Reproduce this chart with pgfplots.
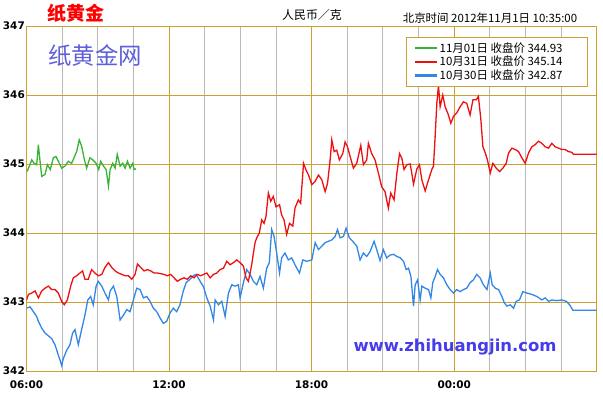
\documentclass[border=0pt]{standalone}
\usepackage{fontspec}
\usepackage{pgfplots}
\pgfplotsset{compat=1.18}
\newfontfamily\cjk{Noto Sans CJK SC}
\newfontfamily\dv{DejaVu Sans}
\definecolor{gold}{RGB}{205,160,50}
\definecolor{gridgrey}{RGB}{185,185,185}
\definecolor{lred}{RGB}{238,16,16}
\definecolor{lgreen}{RGB}{55,180,55}
\definecolor{lblue}{RGB}{50,135,230}
\definecolor{wmblue}{RGB}{95,95,220}
\definecolor{wwwblue}{RGB}{70,60,235}
\begin{document}
\begin{tikzpicture}[x=1bp,y=1bp]
\path[use as bounding box] (0,0) rectangle (603,392);
\begin{axis}[
  at={(26.5bp,21bp)}, anchor=south west, scale only axis,
  width=570.2bp, height=345bp,
  xmin=0, xmax=24, ymin=342, ymax=347,
  xtick={0,6,12,18,24}, xticklabels={06:00,12:00,18:00,00:00,{}},
  minor xtick={1.5,3,4.5,7.5,9,10.5,13.5,15,16.5,19.5,21,22.5},
  ytick={342,343,344,345,346,347},
  grid=both,
  major grid style={gold, line width=0.9bp},
  minor grid style={gridgrey, line width=0.9bp},
  axis line style={gold, line width=0.9bp},
  major tick length=0pt, minor tick length=0pt,
  tick style={draw=none},
  /pgf/number format/assume math mode=true,
  ticklabel style={font=\dv\bfseries\fontsize{10.5}{12}\selectfont},
  yticklabel style={inner sep=0pt, xshift=-1.5bp},
  xticklabel style={inner sep=0pt, yshift=-10bp},
  legend style={at={(0.6656,0.968)}, anchor=north west, draw=gold, line width=0.9bp, fill=white,
    font=\cjk\fontsize{11.5}{13}\selectfont, inner xsep=7bp, inner ysep=3bp, row sep=-1.5bp,
    /tikz/every even column/.append style={column sep=4bp}},
  legend cell align=left,
  reverse legend,
  legend image code/.code={\draw[#1, line width=2.2bp] (0bp,0bp) -- (22bp,0bp);},
]
\addplot[lblue, line width=1.3bp] coordinates {
(0.00,342.91) (0.15,342.93) (0.29,342.86) (0.43,342.79) (0.50,342.72) (0.64,342.62) (0.78,342.55)
(0.92,342.51) (1.06,342.47) (1.20,342.38) (1.34,342.23) (1.41,342.16) (1.48,342.08) (1.55,342.18)
(1.69,342.30) (1.83,342.38) (1.94,342.55) (2.04,342.60) (2.18,342.38) (2.32,342.60) (2.46,342.81)
(2.58,343.03) (2.70,343.08) (2.81,342.96) (2.93,343.23) (3.02,343.30) (3.17,343.23) (3.30,343.13)
(3.45,343.03) (3.52,343.16) (3.66,343.23) (3.80,343.08) (3.94,342.74) (4.08,342.81) (4.22,342.89)
(4.36,342.86) (4.50,343.03) (4.64,343.20) (4.78,343.18) (4.92,343.06) (5.06,343.08) (5.20,343.01)
(5.34,342.91) (5.48,342.86) (5.62,342.77) (5.76,342.69) (5.90,342.72) (6.04,342.84) (6.18,342.91)
(6.32,342.86) (6.46,342.96) (6.60,343.16) (6.72,343.28) (6.88,343.33) (7.02,343.38) (7.14,343.40)
(7.31,343.30) (7.45,343.22) (7.59,343.06) (7.73,342.94) (7.87,342.74) (7.94,343.03) (8.08,342.96)
(8.22,343.01) (8.36,342.79) (8.50,343.13) (8.64,343.25) (8.78,343.23) (8.92,343.25) (8.99,343.06)
(9.13,343.28) (9.27,343.47) (9.41,343.40) (9.55,343.30) (9.69,343.25) (9.83,343.37) (9.97,343.20)
(10.11,343.49) (10.22,343.57) (10.32,344.05) (10.42,343.95) (10.53,343.71) (10.65,343.42) (10.74,343.64)
(10.88,343.71) (11.02,343.61) (11.16,343.64) (11.30,343.54) (11.49,343.42) (11.63,343.61) (11.80,343.59)
(12.01,343.61) (12.15,343.86) (12.29,343.76) (12.43,343.81) (12.57,343.86) (12.71,343.88) (12.85,343.90)
(12.99,343.95) (13.09,344.05) (13.20,343.93) (13.34,343.95) (13.45,344.07) (13.59,343.93) (13.73,343.88)
(13.90,343.81) (14.04,343.61) (14.18,343.71) (14.32,343.66) (14.46,343.73) (14.63,343.88) (14.74,343.76)
(14.88,343.60) (15.02,343.76) (15.16,343.64) (15.30,343.68) (15.45,343.69) (15.59,343.66) (15.73,343.64)
(15.87,343.59) (15.98,343.47) (16.08,343.49) (16.18,343.37) (16.29,342.94) (16.36,343.25) (16.46,343.32)
(16.57,343.03) (16.64,343.23) (16.78,343.20) (16.92,343.18) (17.02,343.06) (17.10,343.28) (17.20,343.37)
(17.30,343.47) (17.41,343.40) (17.55,343.35) (17.69,343.25) (17.83,343.18) (17.97,343.13) (18.11,343.18)
(18.25,343.15) (18.39,343.18) (18.53,343.20) (18.67,343.28) (18.81,343.32) (18.95,343.40) (19.09,343.35)
(19.23,343.25) (19.38,343.18) (19.52,343.42) (19.60,343.25) (19.73,343.20) (19.87,343.18) (20.01,343.08)
(20.11,342.99) (20.22,342.94) (20.36,342.96) (20.50,342.91) (20.61,343.01) (20.75,343.03) (20.89,343.15)
(21.06,343.13) (21.27,343.11) (21.48,343.08) (21.69,343.03) (21.83,343.06) (21.97,343.01) (22.11,343.03)
(22.32,343.02) (22.53,343.03) (22.72,343.01) (22.86,342.96) (23.00,342.88) (24.00,342.88)
};
\addlegendentry{\makebox[139bp][l]{\rule[-10bp]{0pt}{10bp}10月30日 收盘价 342.87}}
\addplot[lred, line width=1.3bp] coordinates {
(0.00,343.03) (0.08,343.11) (0.22,343.13) (0.36,343.16) (0.50,343.06) (0.64,343.16) (0.78,343.20)
(0.92,343.23) (1.06,343.18) (1.20,343.18) (1.34,343.13) (1.48,343.01) (1.59,342.96) (1.72,343.03)
(1.86,343.23) (1.97,343.35) (2.11,343.38) (2.25,343.42) (2.36,343.45) (2.46,343.33) (2.60,343.33)
(2.74,343.47) (2.88,343.42) (3.02,343.38) (3.17,343.40) (3.30,343.50) (3.45,343.57) (3.59,343.50)
(3.73,343.45) (3.87,343.42) (4.01,343.40) (4.15,343.38) (4.29,343.38) (4.43,343.33) (4.57,343.40)
(4.67,343.55) (4.81,343.50) (4.95,343.45) (5.09,343.47) (5.23,343.45) (5.37,343.42) (5.51,343.42)
(5.65,343.41) (5.79,343.40) (5.93,343.38) (6.07,343.40) (6.21,343.35) (6.35,343.30) (6.49,343.33)
(6.63,343.35) (6.77,343.33) (6.91,343.38) (7.05,343.35) (7.19,343.40) (7.33,343.38) (7.45,343.40)
(7.59,343.42) (7.73,343.35) (7.87,343.40) (8.01,343.42) (8.15,343.47) (8.29,343.49) (8.43,343.59)
(8.57,343.54) (8.71,343.57) (8.85,343.61) (8.99,343.57) (9.13,343.52) (9.24,343.35) (9.34,343.30)
(9.41,343.42) (9.48,343.54) (9.55,343.71) (9.62,343.86) (9.69,343.93) (9.80,344.00) (9.90,344.19)
(10.00,344.14) (10.08,344.24) (10.18,344.58) (10.28,344.46) (10.39,344.53) (10.50,344.38) (10.65,344.41)
(10.74,344.26) (10.84,344.19) (10.95,343.98) (11.07,344.14) (11.21,344.10) (11.30,344.36) (11.44,344.48)
(11.54,344.43) (11.66,345.01) (11.77,344.91) (11.87,344.84) (12.01,344.70) (12.15,344.75) (12.29,344.84)
(12.43,344.77) (12.57,344.60) (12.67,344.72) (12.78,345.06) (12.85,345.35) (12.95,345.18) (13.06,345.20)
(13.17,345.06) (13.31,345.15) (13.41,345.32) (13.51,345.25) (13.62,345.11) (13.76,344.94) (13.90,345.01)
(14.01,345.18) (14.07,345.27) (14.18,344.99) (14.32,345.06) (14.39,345.30) (14.53,345.15) (14.67,345.06)
(14.81,344.87) (14.95,344.67) (15.09,344.60) (15.23,344.36) (15.33,344.58) (15.47,344.48) (15.59,344.87)
(15.70,345.15) (15.80,345.08) (15.89,344.92) (16.01,344.99) (16.15,345.00) (16.29,344.71) (16.43,344.93)
(16.54,344.99) (16.64,344.77) (16.78,344.61) (16.92,344.77) (17.06,344.92) (17.13,344.97) (17.20,345.40)
(17.27,345.88) (17.34,346.14) (17.41,345.83) (17.52,346.00) (17.62,345.83) (17.76,345.71) (17.86,345.59)
(17.97,345.69) (18.11,345.74) (18.25,345.83) (18.39,345.90) (18.53,345.88) (18.67,345.71) (18.79,345.93)
(18.93,345.93) (19.02,345.98) (19.12,345.66) (19.21,345.25) (19.31,345.16) (19.40,345.06) (19.52,344.87)
(19.63,345.01) (19.77,344.94) (19.91,344.89) (20.05,344.94) (20.19,345.01) (20.29,345.16) (20.43,345.23)
(20.57,345.21) (20.71,345.18) (20.85,345.09) (20.99,345.01) (21.13,345.16) (21.27,345.25) (21.41,345.28)
(21.55,345.33) (21.69,345.30) (21.83,345.25) (21.97,345.23) (22.11,345.30) (22.25,345.25) (22.39,345.23)
(22.53,345.21) (22.67,345.21) (22.81,345.18) (22.95,345.17) (23.02,345.14) (24.00,345.14)
};
\addlegendentry{\makebox[139bp][l]{10月31日 收盘价 345.14}}
\addplot[lgreen, line width=1.3bp] coordinates {
(0.02,344.89) (0.12,344.97) (0.22,345.06) (0.32,345.01) (0.43,344.99) (0.50,345.28) (0.57,345.04)
(0.64,344.82) (0.78,344.85) (0.88,344.99) (1.00,344.92) (1.13,345.09) (1.24,345.11) (1.38,345.01)
(1.48,344.94) (1.62,344.97) (1.76,345.04) (1.90,345.01) (2.00,345.09) (2.11,345.18) (2.22,345.35)
(2.32,345.26) (2.42,345.09) (2.53,344.94) (2.67,345.09) (2.79,345.06) (2.93,345.01) (3.04,344.92)
(3.12,345.04) (3.24,344.97) (3.35,344.92) (3.45,344.68) (3.52,344.92) (3.63,345.01) (3.73,344.94)
(3.82,345.14) (3.94,344.97) (4.05,345.01) (4.15,344.94) (4.25,345.04) (4.36,344.94) (4.47,345.01)
(4.53,344.92) (4.61,344.93)
};
\addlegendentry{\makebox[139bp][l]{11月01日 收盘价 344.93}}
\end{axis}
\node[text=red, font=\cjk\bfseries\fontsize{19}{21}\selectfont] at (76,378.5) {纸黄金};
\node[font=\cjk\fontsize{12}{14}\selectfont] at (312,377) {人民币／克};
\node[font=\cjk\fontsize{11.5}{13}\selectfont] at (490,374) {北京时间 2012年11月1日 10:35:00};
\node[text=wmblue, font=\cjk\fontsize{23.5}{26}\selectfont] at (95,336) {纸黄金网};
\node[text=wwwblue, font=\dv\bfseries\fontsize{16.5}{18}\selectfont] at (455,45) {www.zhihuangjin.com};
\end{tikzpicture}
\end{document}
